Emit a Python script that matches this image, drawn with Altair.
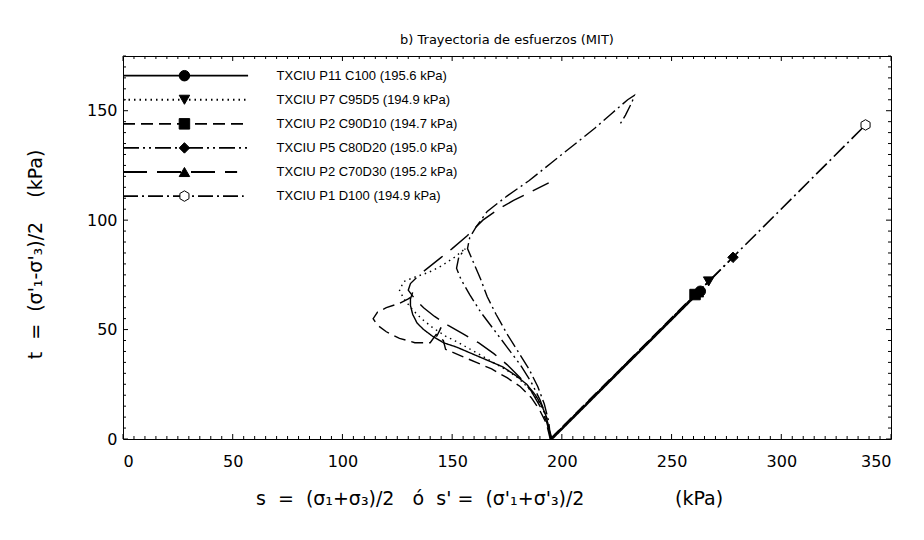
import altair as alt
import pandas as pd

# ---------------- data ----------------
series = [
    "TXCIU P11 C100 (195.6 kPa)",
    "TXCIU P7 C95D5 (194.9 kPa)",
    "TXCIU P2 C90D10 (194.7 kPa)",
    "TXCIU P5 C80D20 (195.0 kPa)",
    "TXCIU P2 C70D30 (195.2 kPa)",
    "TXCIU P1 D100 (194.9 kPa)",
]
sigma3 = [195.6, 194.9, 194.7, 195.0, 195.2, 194.9]
# end of total stress path (t at failure)
t_end = [67.5, 72.0, 66.0, 83.0, 67.0, 143.5]

# effective stress paths  (s', t)
s_c100 = [195.6, 194, 193, 191, 188, 184, 179, 173, 166, 159, 152, 146, 141, 137, 134, 132, 131, 131, 132]
t_c100 = [0, 5, 10, 15, 20, 25, 29, 33, 36, 39, 42, 44, 47, 50, 53, 57, 61, 64, 67]

s_c95 = [194.9, 194, 192, 189, 185, 180, 174, 167, 160, 153, 147, 141, 136, 132, 128, 126, 128, 133, 139, 145, 151, 156]
t_c95 = [0, 6, 12, 18, 23, 28, 32, 36, 40, 44, 47, 51, 55, 59, 64, 68, 72, 74, 76, 79, 83, 87]

s_c90 = [194.7, 193, 190, 186, 181, 175, 168, 161, 154, 147, 146, 143, 145, 140, 133, 126, 120, 116, 114, 116, 120, 126, 130, 133]
t_c90 = [0, 7, 13, 19, 24, 28, 32, 35, 38, 41, 45, 47, 51, 44, 44, 46, 49, 52, 55, 58, 60, 62, 64, 66]

s_c80 = [195.0, 193, 190, 186, 181, 175, 169, 163, 158, 154, 152, 153, 156]
t_c80 = [0, 10, 18, 26, 34, 42, 50, 58, 66, 73, 78, 83, 87]

s_c70 = [195.2, 193, 190, 186, 181, 175, 169, 162, 155, 148, 142, 137, 133, 130, 131, 135, 140, 145, 150, 157, 164, 171, 178, 186, 194]
t_c70 = [0, 8, 15, 22, 28, 34, 39, 44, 48, 52, 56, 60, 64, 68, 71, 75, 79, 83, 87, 93, 100, 105, 109, 113, 117]

s_d100 = [194.9, 194, 192, 189, 185, 180, 175, 170, 166, 163, 160, 157, 158, 161, 166, 175, 185, 195, 205, 215, 223, 230, 233, 232, 229, 226]
t_d100 = [0, 8, 16, 24, 32, 40, 48, 57, 65, 73, 80, 87, 92, 97, 104, 111, 118, 126, 134, 142, 149, 155, 157, 154, 148, 143]

eff_s = [s_c100, s_c95, s_c90, s_c80, s_c70, s_d100]
eff_t = [t_c100, t_c95, t_c90, t_c80, t_c70, t_d100]

x_ticks = [0, 50, 100, 150, 200, 250, 300, 350]
y_ticks = [0, 50, 100, 150]

# legend rows (t position) and line extent
legend_t = [166, 155, 144, 133, 122, 111]
legend_x_end = [57, 56, 56, 57, 52, 55]
legend_marker_x = 28
legend_text_x = 70

NB = "\u00a0"
x_title = ("s" + NB * 2 + "=" + NB * 2 + "(σ₁+σ₃)/2" + NB * 3 + "ó" + NB * 2 + "s'" + NB + "="
           + NB * 2 + "(σ'₁+σ'₃)/2" + NB * 15 + "(kPa)")
y_title = "t" + NB * 2 + "=" + NB * 2 + "(σ'₁-σ'₃)/2" + NB * 4 + "(kPa)"
main_title = "b) Trayectoria de esfuerzos (MIT)"

# ---------------- styles ----------------
dash_styles = [[1, 0], [1.5, 4], [12, 6], [16, 4, 2, 4, 2, 4], [24, 10], [15, 4, 2, 4]]
HEX = "M0,-1L0.866,-0.5L0.866,0.5L0,1L-0.866,0.5L-0.866,-0.5Z"
shapes = ["circle", "triangle-down", "square", "diamond", "triangle-up", HEX]
fills = ["black", "black", "black", "black", "black", "white"]

W, H = 768, 383
NUM_FONT = "DejaVu Sans"
LEG_FONT = "Liberation Sans"

# ---------------- tables ----------------
rows = []
for name, ss, tt in zip(series, eff_s, eff_t):
    for i, (s, t) in enumerate(zip(ss, tt)):
        rows.append({"series": name, "i": i, "s": s, "t": t})
eff_df = pd.DataFrame(rows)

tot_rows = []
for name, s3, te in zip(series, sigma3, t_end):
    tot_rows.append({"series": name, "i": 0, "s": s3, "t": 0.0})
    tot_rows.append({"series": name, "i": 1, "s": s3 + te, "t": te})
tot_df = pd.DataFrame(tot_rows)
end_df = tot_df[tot_df["i"] == 1]

leg_df = pd.DataFrame({
    "series": series,
    "t": legend_t,
    "x0": [0] * 6,
    "x1": legend_x_end,
    "xm": [legend_marker_x] * 6,
    "xt": [legend_text_x] * 6,
})

xs = alt.Scale(domain=[0, 350], nice=False, zero=False)
ys = alt.Scale(domain=[0, 175], nice=False, zero=False)
dash_enc = alt.StrokeDash("series:N", scale=alt.Scale(domain=series, range=dash_styles), legend=None)
shape_enc = alt.Shape("series:N", scale=alt.Scale(domain=series, range=shapes), legend=None)
fill_enc = alt.Fill("series:N", scale=alt.Scale(domain=series, range=fills), legend=None)

x_axis = alt.Axis(
    values=x_ticks, tickSize=0, domain=False, grid=False, labelFont=NUM_FONT,
    labelFontSize=16, labelColor="black", labelPadding=14,
    title=x_title,
    titleFont=NUM_FONT, titleFontSize=19, titleFontWeight="normal", titleColor="black",
    titleX=366, titleY=59, titleBaseline="middle", titleAnchor="middle",
)
y_axis = alt.Axis(
    values=y_ticks, tickSize=0, domain=False, grid=False, labelFont=NUM_FONT,
    labelFontSize=16, labelColor="black", labelPadding=6,
    title=y_title,
    titleFont=NUM_FONT, titleFontSize=19, titleFontWeight="normal", titleColor="black",
    titleX=-88, titleY=198, titleBaseline="middle", titleAnchor="middle",
)

eff = alt.Chart(eff_df).mark_line(color="black", strokeWidth=1.4).encode(
    x=alt.X("s:Q", scale=xs, axis=x_axis),
    y=alt.Y("t:Q", scale=ys, axis=y_axis),
    detail="series:N",
    order="i:Q",
    strokeDash=dash_enc,
)

tot = alt.Chart(tot_df).mark_line(color="black", strokeWidth=1.6).encode(
    x=alt.X("s:Q", scale=xs),
    y=alt.Y("t:Q", scale=ys),
    detail="series:N",
    order="i:Q",
    strokeDash=dash_enc,
)

marks = alt.Chart(end_df).mark_point(filled=True, opacity=1, size=110, stroke="black", strokeWidth=1).encode(
    x=alt.X("s:Q", scale=xs),
    y=alt.Y("t:Q", scale=ys),
    shape=shape_enc,
    fill=fill_enc,
)

leg_lines = alt.Chart(leg_df).mark_rule(color="black", strokeWidth=1.8).encode(
    x=alt.X("x0:Q", scale=xs),
    x2="x1:Q",
    y=alt.Y("t:Q", scale=ys),
    strokeDash=dash_enc,
)
leg_marks = alt.Chart(leg_df).mark_point(filled=True, opacity=1, size=110, stroke="black", strokeWidth=1).encode(
    x=alt.X("xm:Q", scale=xs),
    y=alt.Y("t:Q", scale=ys),
    shape=shape_enc,
    fill=fill_enc,
)
leg_text = alt.Chart(leg_df).mark_text(align="left", baseline="middle", font=LEG_FONT, fontSize=13, color="black").encode(
    x=alt.X("xt:Q", scale=xs),
    y=alt.Y("t:Q", scale=ys),
    text="series:N",
)

# inward ticks on all four sides
xminor = pd.DataFrame({"v": [v for v in range(0, 351, 5) if v % 50 != 0]})
xmajor = pd.DataFrame({"v": [v for v in range(0, 351, 50)]})
yminor = pd.DataFrame({"v": [v for v in range(0, 176, 5) if v % 50 != 0]})
ymajor = pd.DataFrame({"v": [v for v in range(0, 176, 50)]})


def xtick_layer(df, ln):
    b = alt.Chart(df).mark_rule(color="black", strokeWidth=1).encode(
        x=alt.X("v:Q", scale=xs), y=alt.value(H), y2=alt.value(H - ln))
    t = alt.Chart(df).mark_rule(color="black", strokeWidth=1).encode(
        x=alt.X("v:Q", scale=xs), y=alt.value(0), y2=alt.value(ln))
    return b + t


def ytick_layer(df, ln):
    l = alt.Chart(df).mark_rule(color="black", strokeWidth=1).encode(
        y=alt.Y("v:Q", scale=ys), x=alt.value(0), x2=alt.value(ln))
    r = alt.Chart(df).mark_rule(color="black", strokeWidth=1).encode(
        y=alt.Y("v:Q", scale=ys), x=alt.value(W), x2=alt.value(W - ln))
    return l + r


ticks = xtick_layer(xminor, 3) + xtick_layer(xmajor, 5) + ytick_layer(yminor, 3) + ytick_layer(ymajor, 5)

chart = alt.layer(eff, tot, marks, leg_lines, leg_marks, leg_text, ticks).properties(
    width=W,
    height=H,
    title=alt.TitleParams(
        main_title, font=NUM_FONT, fontSize=13,
        fontWeight="normal", color="black", anchor="middle", offset=9,
    ),
    autosize=alt.AutoSizeParams(type="none"),
    padding={"left": 115, "top": 48, "right": 20, "bottom": 75},
).configure_view(stroke="black", strokeWidth=1)

chart.save("out.html", embed_options={"renderer": "svg", "actions": False})
